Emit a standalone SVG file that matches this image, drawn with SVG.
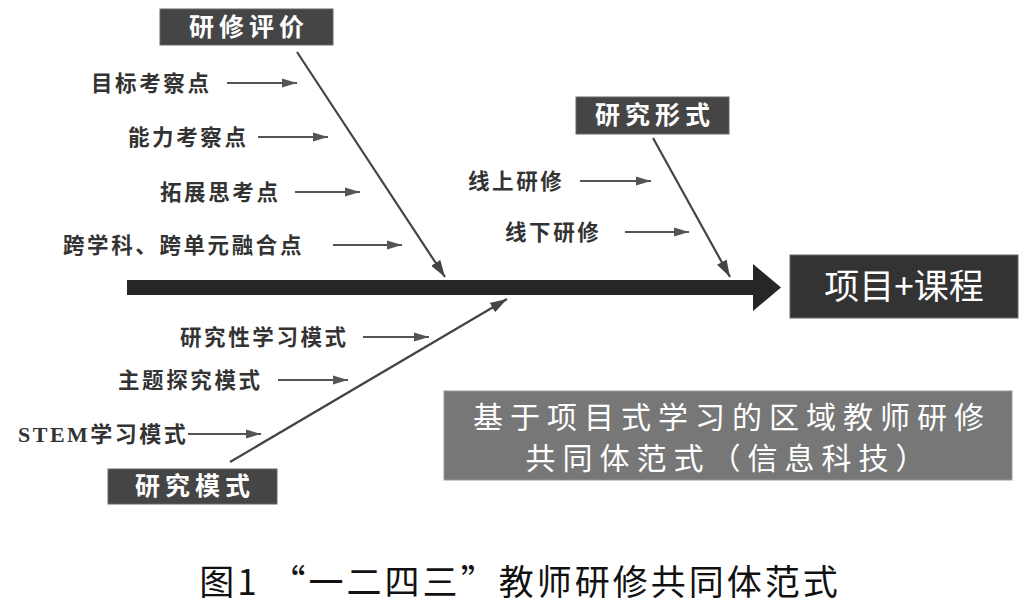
<svg xmlns="http://www.w3.org/2000/svg" width="1032" height="608" viewBox="0 0 1032 608">
<style>
.lbl{font-family:"Liberation Serif","Noto Sans CJK SC",serif;font-weight:bold;font-size:21.5px;letter-spacing:2.6px;fill:#333}
.hdr{font-family:"Noto Sans CJK SC","Liberation Sans",sans-serif;font-weight:bold;font-size:25px;letter-spacing:5px;fill:#fff;text-anchor:middle}
.big{font-family:"Noto Sans CJK SC","Liberation Sans",sans-serif;font-size:35px;fill:#fff;text-anchor:middle}
.sub{font-family:"Noto Sans CJK SC","Liberation Sans",sans-serif;font-size:30px;letter-spacing:7px;fill:#fff;text-anchor:middle}
.cap{font-family:"Noto Sans CJK SC","Liberation Serif",serif;font-size:35px;letter-spacing:3px;fill:#111;text-anchor:middle}
.sa{stroke:#555;stroke-width:2;fill:none;marker-end:url(#ah)}
.da{stroke:#444;stroke-width:2.2;fill:none;marker-end:url(#dh)}
.hbox{fill:#454545;stroke:#666;stroke-width:1}
</style>
<defs>
<marker id="ah" markerUnits="userSpaceOnUse" markerWidth="16" markerHeight="10" refX="15" refY="5" orient="auto">
<path d="M0,0.5 L15,5 L0,9.5 z" fill="#555"/>
</marker>
<marker id="dh" markerUnits="userSpaceOnUse" markerWidth="18" markerHeight="12" refX="17" refY="6" orient="auto">
<path d="M0,0.5 L17,6 L0,11.5 z" fill="#444"/>
</marker>
</defs>
<rect width="1032" height="608" fill="#fff"/>

<g id="connectors">
<path id="spine" d="M127,280 L753,280 L753,264 L781,287.5 L753,311 L753,295 L127,295 z" fill="#262626"/>
<line class="da" x1="297" y1="52" x2="445" y2="277"/>
<line class="da" x1="653" y1="138" x2="730" y2="277"/>
<line class="da" x1="230" y1="462" x2="507" y2="299"/>
<line class="sa" x1="227" y1="83" x2="297" y2="83"/>
<line class="sa" x1="258" y1="137" x2="328" y2="137"/>
<line class="sa" x1="295" y1="192" x2="360" y2="192"/>
<line class="sa" x1="333" y1="245" x2="402" y2="245"/>
<line class="sa" x1="580" y1="181" x2="651" y2="181"/>
<line class="sa" x1="625" y1="232" x2="689" y2="232"/>
<line class="sa" x1="363" y1="337" x2="429" y2="337"/>
<line class="sa" x1="278" y1="380" x2="348" y2="380"/>
<line class="sa" x1="188" y1="434" x2="261" y2="434"/>
</g>

<g id="yanxiu-pingjia">
<rect class="hbox" x="160" y="9" width="173" height="36"/>
<text class="hdr" x="249" y="36">研修评价</text>
</g>
<g id="mubiao"><text class="lbl" x="91" y="91">目标考察点</text></g>
<g id="nengli"><text class="lbl" x="128" y="145">能力考察点</text></g>
<g id="tuozhan"><text class="lbl" x="160" y="200">拓展思考点</text></g>
<g id="kuaxueke"><text class="lbl" x="63" y="253">跨学科、跨单元融合点</text></g>

<g id="yanjiu-xingshi">
<rect class="hbox" x="576" y="97" width="153" height="37"/>
<text class="hdr" x="655" y="124">研究形式</text>
</g>
<g id="xianshang"><text class="lbl" x="468" y="189">线上研修</text></g>
<g id="xianxia"><text class="lbl" x="505" y="240">线下研修</text></g>

<g id="xiangmu-kecheng">
<rect x="790" y="255" width="228" height="63" fill="#333" stroke="#666" stroke-width="1"/>
<text class="big" x="904" y="299">项目+课程</text>
</g>

<g id="yanjiuxing"><text class="lbl" x="180" y="345">研究性学习模式</text></g>
<g id="zhuti"><text class="lbl" x="118" y="388">主题探究模式</text></g>
<g id="stem"><text class="lbl" x="18" y="442" style="font-size:22px;letter-spacing:2.5px">STEM学习模式</text></g>

<g id="yanjiu-moshi">
<rect class="hbox" x="108" y="469" width="169" height="35"/>
<text class="hdr" x="195" y="495">研究模式</text>
</g>

<g id="fanshi">
<rect x="444" y="391" width="568" height="89" fill="#777" stroke="#999" stroke-width="1"/>
<text class="sub" x="732" y="428">基于项目式学习的区域教师研修</text>
<text class="sub" x="729" y="469">共同体范式（信息科技）</text>
</g>

<g id="caption">
<text class="cap" x="520" y="595">图1 “一二四三”教师研修共同体范式</text>
</g>
</svg>
